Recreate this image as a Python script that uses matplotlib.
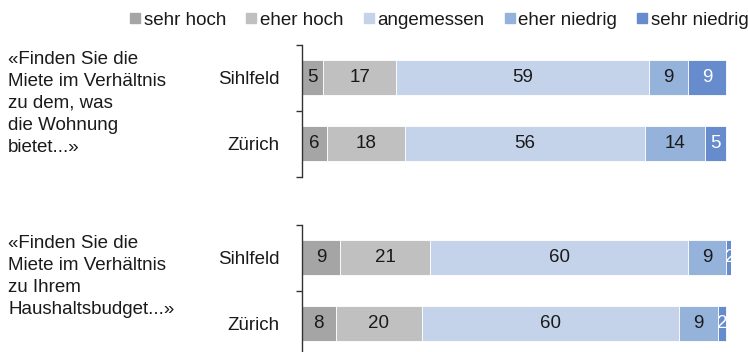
import matplotlib
matplotlib.use("Agg")
import matplotlib.pyplot as plt
from matplotlib.lines import Line2D

plt.rcParams["font.family"] = ["Liberation Sans", "DejaVu Sans"]
plt.rcParams["font.size"] = 13.5

# survey answers in percent, order follows `levels`
categories = ["Sihlfeld", "Zürich"]
levels = ["sehr hoch", "eher hoch", "angemessen", "eher niedrig", "sehr niedrig"]
colors = ["#A5A5A5", "#C0C0C0", "#C4D3EA", "#95B3DA", "#678CCD"]
label_colors = ["#1a1a1a", "#1a1a1a", "#1a1a1a", "#1a1a1a", "white"]

wohnung_sihlfeld = [5, 17, 59, 9, 9]
wohnung_zuerich = [6, 18, 56, 14, 5]
budget_sihlfeld = [9, 21, 60, 9, 2]
budget_zuerich = [8, 20, 60, 9, 2]

question_wohnung = "«Finden Sie die\nMiete im Verhältnis\nzu dem, was\ndie Wohnung\nbietet...»"
question_budget = "«Finden Sie die\nMiete im Verhältnis\nzu Ihrem\nHaushaltsbudget...»"

W, H = 748, 352
FS = 13.5
fig = plt.figure(figsize=(W / 100, H / 100), dpi=100)


def px_axes(left, top, width, height):
    return fig.add_axes([left / W, 1 - (top + height) / H, width / W, height / H])


def draw_block(ax, rows):
    for i, row in enumerate(rows):
        left = 0
        for val, col, tcol in zip(row, colors, label_colors):
            ax.barh(i, val, left=left, height=0.53, color=col,
                    edgecolor="white", linewidth=0.6)
            ax.text(left + val / 2, i, str(val), ha="center", va="center",
                    color=tcol, fontsize=FS)
            left += val
    ax.set_xlim(0, 100)
    ax.set_ylim(1.5, -0.5)
    for side in ("top", "right", "bottom"):
        ax.spines[side].set_visible(False)
    ax.spines["left"].set_color("#333333")
    ax.spines["left"].set_linewidth(1.0)
    ax.set_xticks([])
    ax.set_yticks([0, 1])
    ax.set_yticklabels(categories, color="#1a1a1a")
    ax.tick_params(axis="y", which="major", length=0, pad=16)
    ax.set_yticks([-0.5, 0.5, 1.5], minor=True)
    ax.tick_params(axis="y", which="minor", length=4, width=1.0, color="#333333")


ax_top = px_axes(301.7, 44.5, 429, 132)
draw_block(ax_top, [wohnung_sihlfeld, wohnung_zuerich])

ax_bot = px_axes(301.7, 224.5, 429, 132)
draw_block(ax_bot, [budget_sihlfeld, budget_zuerich])

fig.text(8 / W, 1 - 51 / H, question_wohnung, ha="left", va="top",
         fontsize=FS, linespacing=1.38, color="#1a1a1a")
fig.text(8 / W, 1 - 235 / H, question_budget, ha="left", va="top",
         fontsize=FS, linespacing=1.38, color="#1a1a1a")

handles = [Line2D([], [], marker="s", linestyle="none", markersize=6.5,
                  markerfacecolor=c, markeredgecolor=c) for c in colors]
fig.legend(handles, levels, loc="center", bbox_to_anchor=(439.5 / W, 1 - 20 / H),
           ncol=5, frameon=False, handlelength=0.5, handletextpad=0.2,
           columnspacing=1.1, borderpad=0, borderaxespad=0, fontsize=FS,
           labelcolor="#1a1a1a")

fig.savefig("out.png", dpi=100)
